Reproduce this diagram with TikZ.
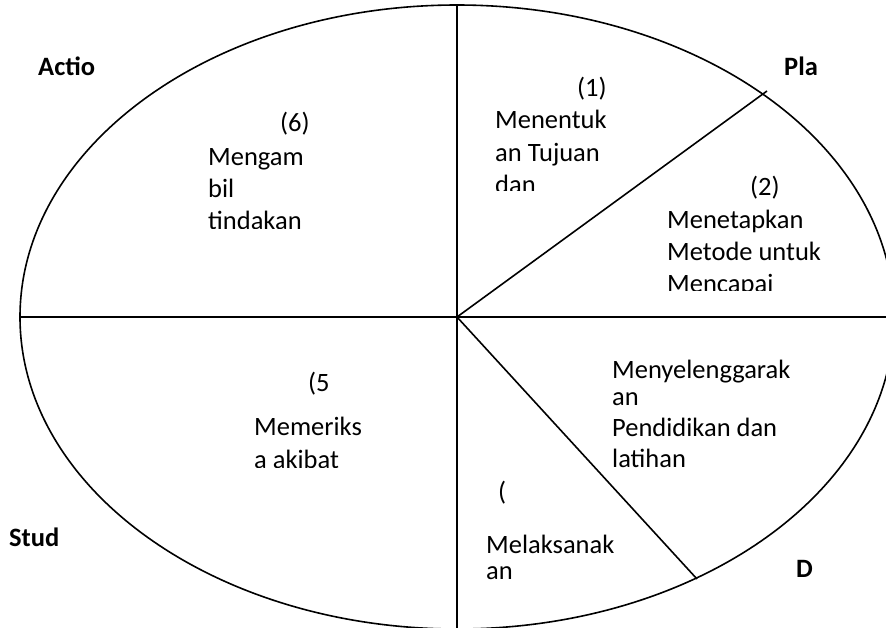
\documentclass[tikz,border=0pt]{standalone}
\usepackage{fontspec}
\setmainfont{Carlito}
\begin{document}
\begin{tikzpicture}[x=1pt,y=-1pt,
  every node/.style={inner sep=0pt, anchor=base west},
  txt/.style={font=\fontsize{26.5}{32}\selectfont},
  phase/.style={font=\fontsize{26.5}{32}\selectfont\bfseries},
  rim/.style={line width=1.6pt}]
\useasboundingbox (0,0) rectangle (886,627);
% ellipse divided into sectors
\begin{scope}
  \clip (0,0) rectangle (886,627);
  \coordinate (c) at (457,317);
  \coordinate (top) at (457,5);
  \coordinate (bot) at (457,640);
  \coordinate (left) at (20,317);
  \coordinate (right) at (890,317);
  \coordinate (plan) at (767,91);
  \coordinate (do) at (697,579);
  \draw[rim] (c) ellipse [x radius=437pt, y radius=312pt];
  \draw[rim] (top) -- (bot);
  \draw[rim] (left) -- (right);
  \draw[rim] (c) -- (plan);
  \draw[rim] (c) -- (do);
\end{scope}
% phase labels
\node[phase] (actio) at (38,75) {Actio};
\node[phase] (pla) at (784,75) {Pla};
\node[phase] (stud) at (9,546) {Stud};
\node[phase] (d) at (796,577) {D};
% step 1
\begin{scope}
  \clip (480,60) rectangle (640,190);
  \node[txt] (n1) at (577,96) {(1)};
  \node[txt] (t1a) at (495,128) {Menentuk};
  \node[txt] (t1b) at (495,161) {an Tujuan};
  \node[txt] (t1c) at (495,193) {dan};
\end{scope}
% step 2
\begin{scope}
  \clip (655,165) rectangle (850,290);
  \node[txt] (n2) at (750,195) {(2)};
  \node[txt] (t2a) at (667,228) {Menetapkan};
  \node[txt] (t2b) at (667,260) {Metode untuk};
  \node[txt] (t2c) at (667,292) {Mencapai};
\end{scope}
% step 3
\node[txt] (t3a) at (612,378) {Menyelenggarak};
\node[txt] (t3b) at (612,405) {an};
\node[txt] (t3c) at (612,436) {Pendidikan dan};
\node[txt] (t3d) at (612,467) {latihan};
% step 4
\node[txt] (n4) at (498,500) {(};
\node[txt] (t4a) at (486,553) {Melaksanak};
\node[txt] (t4b) at (486,579) {an};
% step 5
\node[txt] (n5) at (308,391) {(5};
\begin{scope}
  \clip (240,400) rectangle (360,467);
  \node[txt] (t5a) at (254,435) {Memeriks};
  \node[txt] (t5b) at (254,468) {a akibat};
\end{scope}
% step 6
\begin{scope}
  \clip (195,100) rectangle (330,228);
  \node[txt] (n6) at (280,131) {(6)};
  \node[txt] (t6a) at (208,165) {Mengam};
  \node[txt] (t6b) at (208,197) {bil};
  \node[txt] (t6c) at (208,229) {tindakan};
\end{scope}
\end{tikzpicture}
\end{document}
